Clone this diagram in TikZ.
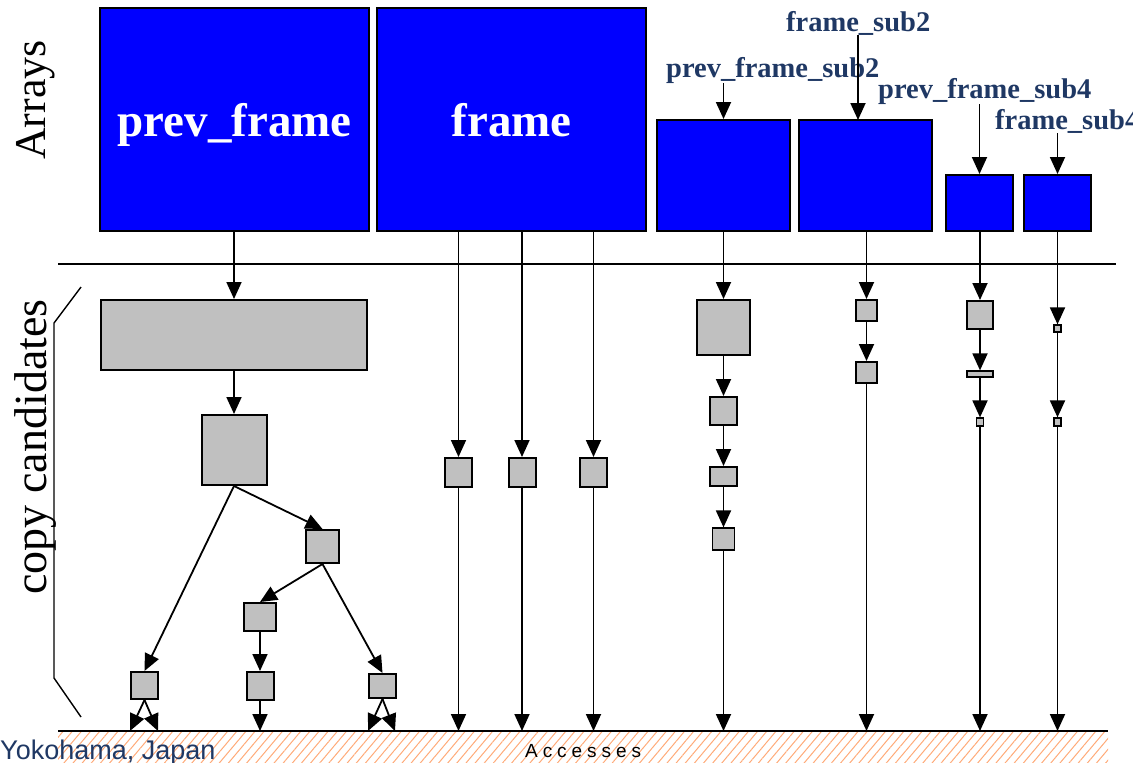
\documentclass[tikz,border=0pt]{standalone}
\usepackage{fontspec}
\setmainfont{Liberation Serif}
\newfontfamily\sansfont{Liberation Sans}
\usetikzlibrary{arrows.meta,patterns.meta}

\definecolor{navy}{RGB}{31,56,100}
\definecolor{hatch}{RGB}{255,170,120}
\definecolor{cgray}{RGB}{192,192,192}

\tikzset{
  arr/.style={draw, fill=blue, line width=2pt, inner sep=0pt, text=white,
    text depth=0pt, font=\fontsize{47}{50}\selectfont\bfseries},
  cand/.style={draw, fill=cgray, line width=2pt, inner sep=0pt},
  tiny/.style={cand, line width=1.2pt},
  lbl/.style={anchor=base west, inner sep=0pt, text=navy,
    font=\fontsize{28.5}{30}\selectfont\bfseries},
  acc/.style={line width=1.8pt, -{Triangle[length=17pt,width=15pt]}},
}

\begin{document}
\begin{tikzpicture}[x=1pt, y=-1pt]
\useasboundingbox (0,0) rectangle (1133,763);

% floor of the accesses
\fill[pattern={Lines[angle=50,distance=7pt,line width=1pt]}, pattern color=hatch]
  (58,731) rectangle (1108,763);
\coordinate (floorL) at (58,731);
\coordinate (floorR) at (1108,731);
\draw[line width=2pt] (floorL) -- (floorR);

\node[anchor=base west, inner sep=0pt, text=navy,
  font=\sansfont\fontsize{27}{29}\selectfont] (place) at (0,759) {Yokohama, Japan};
\node[anchor=base west, inner sep=0pt,
  font=\sansfont\fontsize{19}{20}\selectfont\addfontfeature{LetterSpace=26}] (accesses) at (525,757) {Accesses};

% side captions
\node[rotate=90, font=\fontsize{44}{46}\selectfont] (arrays) at (36,100) {Arrays};
\node[rotate=90, font=\fontsize{46}{48}\selectfont] (copycand) at (36,447) {copy candidates};
\draw[line width=1.4pt] (81,287) -- (54,323) -- (54,678) -- (81,717);

\coordinate (sepL) at (58,264);
\coordinate (sepR) at (1116,264);
\draw[line width=1.5pt] (sepL) -- (sepR);

% arrays
\node[arr, minimum width=269pt, minimum height=223pt] (pf) at (234.5,119.5) {prev\_frame};
\node[arr, minimum width=269pt, minimum height=223pt] (fr) at (511.5,119.5) {frame};
\node[arr, minimum width=133pt, minimum height=111pt] (pfs2) at (723.5,175.5) {};
\node[arr, minimum width=133pt, minimum height=111pt] (fs2) at (865.5,175.5) {};
\node[arr, minimum width=67pt, minimum height=56pt] (pfs4) at (979.5,203) {};
\node[arr, minimum width=67pt, minimum height=56pt] (fs4) at (1057.5,203) {};

\node[lbl] (fs2lbl) at (786,31) {frame\_sub2};
\node[lbl] (pfs2lbl) at (666,77) {prev\_frame\_sub2};
\node[lbl] (pfs4lbl) at (878,98) {prev\_frame\_sub4};
\node[lbl] (fs4lbl) at (995,129) {frame\_sub4};

\coordinate (fs2in) at (858,120);
\draw[acc] (pfs2lbl.south -| pfs2.north) -- (pfs2.north);
\draw[acc] (fs2lbl.south -| fs2in) -- (fs2in);
\draw[acc] (pfs4lbl.south -| pfs4.north) -- (pfs4.north);
\draw[acc] (fs4lbl.south -| fs4.north) -- (fs4.north);

% prev_frame tree
\node[cand, minimum width=266pt, minimum height=70pt] (c1) at (234,335) {};
\node[cand, minimum width=65pt, minimum height=70pt] (c2) at (234,450) {};
\node[cand, minimum width=33pt, minimum height=33pt] (c3) at (322.5,546.5) {};
\node[cand, minimum width=32pt, minimum height=28pt] (c4) at (260,617) {};
\node[cand, minimum width=27pt, minimum height=24pt] (c5) at (382.5,686) {};
\node[cand, minimum width=27pt, minimum height=27pt] (c6) at (144.5,685.5) {};
\node[cand, minimum width=27pt, minimum height=28pt] (c7) at (260,686) {};

\foreach \n/\x in {a/130, b/158, c/260, d/368, e/395}
  \coordinate (end\n) at (\x,731);

\draw[acc] (pf.south -| c1.north) -- (c1.north);
\draw[acc] (c1.south) -- (c2.north);
\draw[acc] (c2.south) -- (c6.north);
\draw[acc] (c2.south) -- (c3.north);
\draw[acc] (c3.south) -- (c4.north);
\draw[acc] (c3.south) -- (c5.north);
\draw[acc] (c4.south) -- (c7.north);
\draw[acc] (c6.south) -- (enda);
\draw[acc] (c6.south) -- (endb);
\draw[acc] (c7.south) -- (endc);
\draw[acc] (c5.south) -- (endd);
\draw[acc] (c5.south) -- (ende);

% frame
\foreach \n/\x in {f1/458.5, f2/522, f3/593.5} {
  \node[cand, minimum width=27pt, minimum height=29pt] (\n) at (\x,472.5) {};
  \draw[acc] (\n |- fr.south) -- (\n);
  \draw[acc] (\n) -- (\n |- floorL);
}

% prev_frame_sub2
\node[cand, minimum width=53pt, minimum height=55pt] (p1) at (723.5,327.5) {};
\node[cand, minimum width=27pt, minimum height=28pt] (p2) at (723.5,411) {};
\node[cand, minimum width=27pt, minimum height=19pt] (p3) at (723.5,476.5) {};
\node[cand, minimum width=22pt, minimum height=22pt, line width=1.2pt] (p4) at (723.5,539) {};
\draw[acc] (pfs2) -- (p1);
\draw[acc] (p1) -- (p2);
\draw[acc] (p2) -- (p3);
\draw[acc] (p3) -- (p4);
\draw[acc] (p4) -- (p4 |- floorL);

% frame_sub2
\node[cand, minimum width=21pt, minimum height=21pt] (q1) at (866.5,310.5) {};
\node[cand, minimum width=21pt, minimum height=21pt] (q2) at (866.5,372.5) {};
\draw[acc] (q1 |- fs2.south) -- (q1);
\draw[acc] (q1) -- (q2);
\draw[acc] (q2) -- (q2 |- floorL);

% prev_frame_sub4
\node[cand, minimum width=26pt, minimum height=28pt] (r1) at (980,315) {};
\node[tiny, minimum width=26pt, minimum height=6pt] (r2) at (980,374) {};
\node[tiny, minimum width=7pt, minimum height=8pt] (r3) at (980,422) {};
\draw[acc] (r1 |- pfs4.south) -- (r1);
\draw[acc] (r1) -- (r2);
\draw[acc] (r2) -- (r3);
\draw[acc] (r3) -- (r3 |- floorL);

% frame_sub4
\node[tiny, minimum width=7pt, minimum height=7pt] (s1) at (1057.5,328.5) {};
\node[tiny, minimum width=7pt, minimum height=8pt] (s2) at (1057.5,422) {};
\draw[acc] (s1 |- fs4.south) -- (s1);
\draw[acc] (s1) -- (s2);
\draw[acc] (s2) -- (s2 |- floorL);

\end{tikzpicture}
\end{document}
